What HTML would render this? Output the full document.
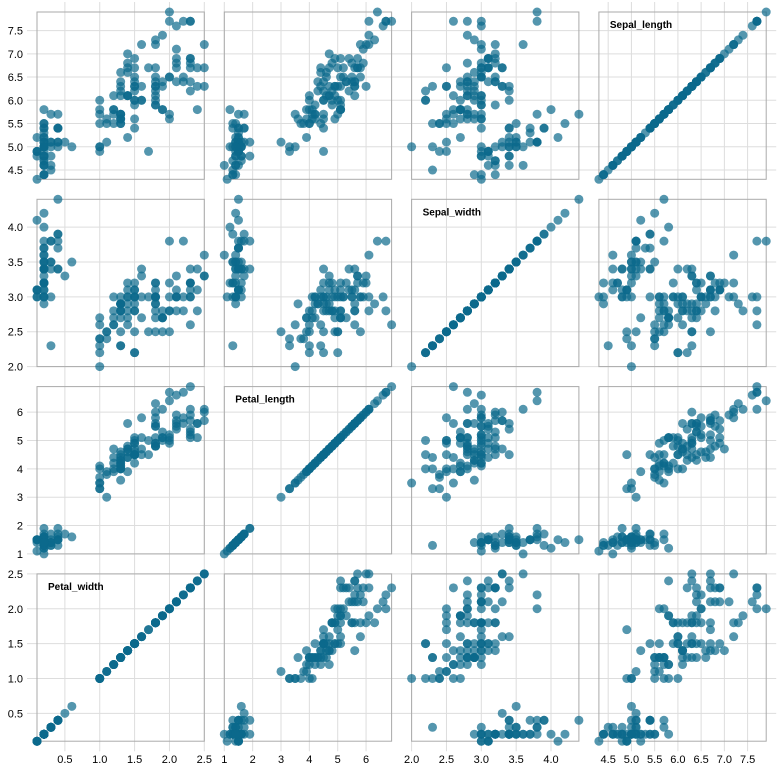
<!DOCTYPE html>
<html><head><meta charset="utf-8"><style>
html,body{margin:0;padding:0;background:#fff;}
svg{display:block;font-family:"Liberation Sans",Arial,sans-serif;}
</style></head><body>
<svg id="chart" width="784" height="774" xmlns="http://www.w3.org/2000/svg"></svg>
<script>
const traits = ["Sepal_length","Sepal_width","Petal_length","Petal_width"];
const sepalLength = [5.1,4.9,4.7,4.6,5.0,5.4,4.6,5.0,4.4,4.9,5.4,4.8,4.8,4.3,5.8,5.7,5.4,5.1,5.7,5.1,5.4,5.1,4.6,5.1,4.8,5.0,5.0,5.2,5.2,4.7,4.8,5.4,5.2,5.5,4.9,5.0,5.5,4.9,4.4,5.1,5.0,4.5,4.4,5.0,5.1,4.8,5.1,4.6,5.3,5.0,
7.0,6.4,6.9,5.5,6.5,5.7,6.3,4.9,6.6,5.2,5.0,5.9,6.0,6.1,5.6,6.7,5.6,5.8,6.2,5.6,5.9,6.1,6.3,6.1,6.4,6.6,6.8,6.7,6.0,5.7,5.5,5.5,5.8,6.0,5.4,6.0,6.7,6.3,5.6,5.5,5.5,6.1,5.8,5.0,5.6,5.7,5.7,6.2,5.1,5.7,
6.3,5.8,7.1,6.3,6.5,7.6,4.9,7.3,6.7,7.2,6.5,6.4,6.8,5.7,5.8,6.4,6.5,7.7,7.7,6.0,6.9,5.6,7.7,6.3,6.7,7.2,6.2,6.1,6.4,7.2,7.4,7.9,6.4,6.3,6.1,7.7,6.3,6.4,6.0,6.9,6.7,6.9,5.8,6.8,6.7,6.7,6.3,6.5,6.2,5.9];
const sepalWidth = [3.5,3.0,3.2,3.1,3.6,3.9,3.4,3.4,2.9,3.1,3.7,3.4,3.0,3.0,4.0,4.4,3.9,3.5,3.8,3.8,3.4,3.7,3.6,3.3,3.4,3.0,3.4,3.5,3.4,3.2,3.1,3.4,4.1,4.2,3.1,3.2,3.5,3.1,3.0,3.4,3.5,2.3,3.2,3.5,3.8,3.0,3.8,3.2,3.7,3.3,
3.2,3.2,3.1,2.3,2.8,2.8,3.3,2.4,2.9,2.7,2.0,3.0,2.2,2.9,2.9,3.1,3.0,2.7,2.2,2.5,3.2,2.8,2.5,2.8,2.9,3.0,2.8,3.0,2.9,2.6,2.4,2.4,2.7,2.7,3.0,3.4,3.1,2.3,3.0,2.5,2.6,3.0,2.6,2.3,2.7,3.0,2.9,2.9,2.5,2.8,
3.3,2.7,3.0,2.9,3.0,3.0,2.5,2.9,2.5,3.6,3.2,2.7,3.0,2.5,2.8,3.2,3.0,3.8,2.6,2.2,3.2,2.8,2.8,2.7,3.3,3.2,2.8,3.0,2.8,3.0,2.8,3.8,2.8,2.8,2.6,3.0,3.4,3.1,3.0,3.1,3.1,3.1,2.7,3.2,3.3,3.0,2.5,3.0,3.4,3.0];
const petalLength = [1.4,1.4,1.3,1.5,1.4,1.7,1.4,1.5,1.4,1.5,1.5,1.6,1.4,1.1,1.2,1.5,1.3,1.4,1.7,1.5,1.7,1.5,1.0,1.7,1.9,1.6,1.6,1.5,1.4,1.6,1.6,1.5,1.5,1.4,1.5,1.2,1.3,1.5,1.3,1.5,1.3,1.3,1.3,1.6,1.9,1.4,1.6,1.4,1.5,1.4,
4.7,4.5,4.9,4.0,4.6,4.5,4.7,3.3,4.6,3.9,3.5,4.2,4.0,4.7,3.6,4.4,4.5,4.1,4.5,3.9,4.8,4.0,4.9,4.7,4.3,4.4,4.8,5.0,4.5,3.5,3.8,3.7,3.9,5.1,4.5,4.5,4.7,4.4,4.1,4.0,4.4,4.6,4.0,3.3,4.2,4.2,4.2,4.3,3.0,4.1,
6.0,5.1,5.9,5.6,5.8,6.6,4.5,6.3,5.8,6.1,5.1,5.3,5.5,5.0,5.1,5.3,5.5,6.7,6.9,5.0,5.7,4.9,6.7,4.9,5.7,6.0,4.8,4.9,5.6,5.8,6.1,6.4,5.6,5.1,5.6,6.1,5.6,5.5,4.8,5.4,5.6,5.1,5.1,5.9,5.7,5.2,5.0,5.2,5.4,5.1];
const petalWidth = [0.2,0.2,0.2,0.2,0.2,0.4,0.3,0.2,0.2,0.1,0.2,0.2,0.1,0.1,0.2,0.4,0.4,0.3,0.3,0.3,0.2,0.4,0.2,0.5,0.2,0.2,0.4,0.2,0.2,0.2,0.2,0.4,0.1,0.2,0.1,0.2,0.2,0.1,0.2,0.2,0.3,0.3,0.2,0.6,0.4,0.3,0.2,0.2,0.2,0.2,
1.4,1.5,1.5,1.3,1.5,1.3,1.6,1.0,1.3,1.4,1.0,1.5,1.0,1.4,1.3,1.4,1.5,1.0,1.5,1.1,1.8,1.3,1.5,1.2,1.3,1.4,1.4,1.7,1.5,1.0,1.1,1.0,1.2,1.6,1.5,1.6,1.5,1.3,1.3,1.3,1.2,1.4,1.2,1.0,1.3,1.2,1.3,1.3,1.1,1.3,
2.5,1.9,2.1,1.8,2.2,2.1,1.7,1.8,1.8,2.5,2.0,1.9,2.1,2.0,2.4,2.3,1.8,2.2,2.3,1.5,2.3,2.0,2.0,1.8,2.1,1.8,1.8,1.8,2.1,1.6,1.9,2.0,2.2,1.5,1.4,2.3,2.4,1.8,1.8,2.1,2.4,2.3,1.9,2.3,2.5,2.3,1.9,2.0,2.3,1.8];
const ticksSepalLength = [4.5,5.0,5.5,6.0,6.5,7.0,7.5];
const ticksSepalWidth = [2.0,2.5,3.0,3.5,4.0];
const ticksPetalLength = [1,2,3,4,5,6];
const ticksPetalWidth = [0.5,1.0,1.5,2.0,2.5];

const cols = [petalWidth, petalLength, sepalWidth, sepalLength];
const colNames = ["Petal_width","Petal_length","Sepal_width","Sepal_length"];
const colTicks = [ticksPetalWidth, ticksPetalLength, ticksSepalWidth, ticksSepalLength];
const rows = [sepalLength, sepalWidth, petalLength, petalWidth];
const rowNames = traits;
const rowTicks = [ticksSepalLength, ticksSepalWidth, ticksPetalLength, ticksPetalWidth];

const NS = "http://www.w3.org/2000/svg";
const svg = document.getElementById("chart");
const size = 187.3, pad = 20, X0 = 27, Y0 = 2, N = 4;
function mk(tag, attrs, parent){const e=document.createElementNS(NS,tag);for(const k in attrs)e.setAttribute(k,attrs[k]);(parent||svg).appendChild(e);return e;}
function ext(a){return [Math.min(...a),Math.max(...a)];}
function xScale(ci){const [a,b]=ext(cols[ci]);const l=X0+ci*size+pad/2,r=X0+(ci+1)*size-pad/2;return v=>l+(v-a)/(b-a)*(r-l);}
function yScale(ri){const [a,b]=ext(rows[ri]);const t=Y0+ri*size+pad/2,bt=Y0+(ri+1)*size-pad/2;return v=>bt-(v-a)/(b-a)*(bt-t);}
const fmt = (t,arr)=> arr.some(v=>v%1!==0)? t.toFixed(1): String(t);

const grid = mk("g",{});


for(let ci=0;ci<N;ci++){
  const xs=xScale(ci);
  colTicks[ci].forEach(t=>{
    const x=xs(t);
    const ln=mk("line",{x1:x,x2:x,y1:Y0,y2:Y0+N*size,stroke:"#ddd","stroke-width":1},grid);
    
    
    const tx=mk("text",{x:x,y:763,"text-anchor":"middle","font-size":11,fill:"#000"});
    tx.textContent=fmt(t,colTicks[ci]);
    
    
  });
}
for(let ri=0;ri<N;ri++){
  const ys=yScale(ri);
  rowTicks[ri].forEach(t=>{
    const y=ys(t);
    const ln=mk("line",{x1:X0,x2:X0+N*size,y1:y,y2:y,stroke:"#ddd","stroke-width":1},grid);
    
    
    const tx=mk("text",{x:23,y:y+4,"text-anchor":"end","font-size":11,fill:"#000"});
    tx.textContent=fmt(t,rowTicks[ri]);
    
    
  });
}
for(let ri=0;ri<N;ri++){
  for(let ci=0;ci<N;ci++){
    const g=mk("g",{});
    
    
    const l=X0+ci*size+pad/2, t=Y0+ri*size+pad/2, w=size-pad;
    const fr=mk("rect",{x:l,y:t,width:w,height:w,fill:"none",stroke:"#aaa","stroke-width":1},g);
    
    
    const xs=xScale(ci), ys=yScale(ri);
    const xv=cols[ci], yv=rows[ri];
    for(let i=0;i<xv.length;i++){
      const c=mk("circle",{cx:xs(xv[i]),cy:ys(yv[i]),r:4.5,fill:"#0b6a8c","fill-opacity":0.7},g);
      
      
    }
    if(colNames[ci]===rowNames[ri]){
      const tx=mk("text",{x:l+11,y:t+16,"font-size":10,"font-weight":"bold",fill:"#000"},g);
      tx.textContent=rowNames[ri];
      
      
    }
  }
}
</script>
</body></html>
